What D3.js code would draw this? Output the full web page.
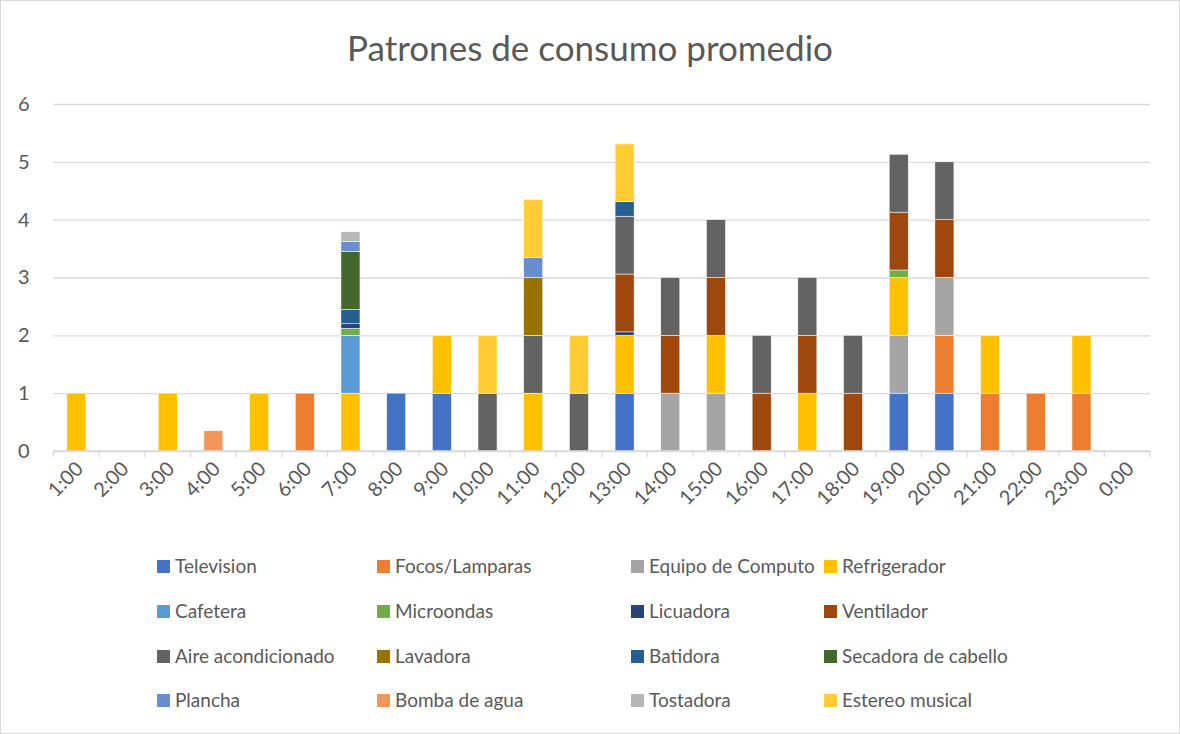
<!DOCTYPE html>
<html>
<head>
<meta charset="utf-8">
<script src="https://cdn.jsdelivr.net/npm/d3@7"></script>
<style>
  body { margin: 0; background: #fff; }
  text { font-family: Lato, "Open Sans", sans-serif; fill: #595959; }
</style>
</head>
<body>
<svg id="chart"></svg>
<script>
// Hours on the x axis.
var hours = ["1:00","2:00","3:00","4:00","5:00","6:00","7:00","8:00","9:00","10:00","11:00","12:00",
             "13:00","14:00","15:00","16:00","17:00","18:00","19:00","20:00","21:00","22:00","23:00","0:00"];

// Appliances, in stacking order.
var appliances = ["Television","Focos/Lamparas","Equipo de Computo","Refrigerador","Cafetera","Microondas",
                  "Licuadora","Ventilador","Aire acondicionado","Lavadora","Batidora","Secadora de cabello",
                  "Plancha","Bomba de agua","Tostadora","Estereo musical"];

var colors = ["#4472C4","#ED7D31","#A5A5A5","#FFC000","#5B9BD5","#70AD47","#264478","#9E480E",
              "#636363","#997300","#255E91","#43682B","#698ED0","#F1975A","#B7B7B7","#FFCD33"];

// Values per appliance, one per hour (1:00 .. 0:00).
var television   = [0,0,0,0,0,0,0,1,1,0,0,0,1,0,0,0,0,0,1,1,0,0,0,0];
var focos        = [0,0,0,0,0,1,0,0,0,0,0,0,0,0,0,0,0,0,0,1,1,1,1,0];
var computo      = [0,0,0,0,0,0,0,0,0,0,0,0,0,1,1,0,0,0,1,1,0,0,0,0];
var refrigerador = [1,0,1,0,1,0,1,0,1,0,1,0,1,0,1,0,1,0,1,0,1,0,1,0];
var cafetera     = [0,0,0,0,0,0,1,0,0,0,0,0,0,0,0,0,0,0,0,0,0,0,0,0];
var microondas   = [0,0,0,0,0,0,0.12,0,0,0,0,0,0,0,0,0,0,0,0.13,0,0,0,0,0];
var licuadora    = [0,0,0,0,0,0,0.08,0,0,0,0,0,0.06,0,0,0,0,0,0,0,0,0,0,0];
var ventilador   = [0,0,0,0,0,0,0,0,0,0,0,0,1,1,1,1,1,1,1,1,0,0,0,0];
var aire         = [0,0,0,0,0,0,0,0,0,1,1,1,1,1,1,1,1,1,1,1,0,0,0,0];
var lavadora     = [0,0,0,0,0,0,0,0,0,0,1,0,0,0,0,0,0,0,0,0,0,0,0,0];
var batidora     = [0,0,0,0,0,0,0.25,0,0,0,0,0,0.25,0,0,0,0,0,0,0,0,0,0,0];
var secadora     = [0,0,0,0,0,0,1,0,0,0,0,0,0,0,0,0,0,0,0,0,0,0,0,0];
var plancha      = [0,0,0,0,0,0,0.17,0,0,0,0.35,0,0,0,0,0,0,0,0,0,0,0,0,0];
var bomba        = [0,0,0,0.35,0,0,0,0,0,0,0,0,0,0,0,0,0,0,0,0,0,0,0,0];
var tostadora    = [0,0,0,0,0,0,0.17,0,0,0,0,0,0,0,0,0,0,0,0,0,0,0,0,0];
var estereo      = [0,0,0,0,0,0,0,0,0,1,1,1,1,0,0,0,0,0,0,0,0,0,0,0];

var yTicks = [0,1,2,3,4,5,6];

var seriesValues = [television, focos, computo, refrigerador, cafetera, microondas, licuadora, ventilador,
                    aire, lavadora, batidora, secadora, plancha, bomba, tostadora, estereo];

// Build table for d3.stack.
var table = hours.map(function(h, i) {
    var row = { hour: h };
    appliances.forEach(function(a, k) { row[a] = seriesValues[k][i]; });
    return row;
});

var W = 1180, H = 734;
var margin = { top: 104, right: 30, bottom: 283, left: 53.5 };
var width = W - margin.left - margin.right;
var height = H - margin.top - margin.bottom;

var svg = d3.select("#chart").attr("width", W).attr("height", H);

svg.append("rect")
    .attr("x", 0.5).attr("y", 0.5)
    .attr("width", W - 1).attr("height", H - 1)
    .attr("fill", "#fff").attr("stroke", "#D9D9D9");

svg.append("text")
    .attr("x", W / 2).attr("y", 61)
    .attr("text-anchor", "middle")
    .style("font-size", "35px")
    .text("Patrones de consumo promedio");

var g = svg.append("g").attr("transform", "translate(" + margin.left + "," + margin.top + ")");

var x = d3.scaleBand().domain(hours).range([0, width]).paddingInner(0.584).paddingOuter(0.292);
var y = d3.scaleLinear().domain([0, 6]).range([height, 0]);

// Gridlines and y labels.
g.append("g")
    .call(d3.axisLeft(y).tickValues(yTicks).tickSize(-width).tickFormat(d3.format("d")))
    .call(function(a) {
        a.select(".domain").remove();
        a.selectAll(".tick line").attr("stroke", "#D9D9D9").attr("stroke-width", 1.3);
        a.selectAll(".tick text").attr("x", -24).style("font-size", "20px").attr("fill", "#595959");
    });

var stack = d3.stack().keys(appliances);
var layers = stack(table);

g.selectAll("g.layer")
    .data(layers)
    .enter().append("g")
    .attr("class", "layer")
    .attr("fill", function(d, i) { return colors[i]; })
    .selectAll("rect")
    .data(function(d) { return d; })
    .enter().append("rect")
    .filter(function(d) { return d[1] - d[0] > 0; })
    .attr("x", function(d) { return x(d.data.hour); })
    .attr("width", x.bandwidth())
    .attr("y", function(d) { return y(d[1]); })
    .attr("height", function(d) { return y(d[0]) - y(d[1]); })
    .attr("stroke", "#fff")
    .attr("stroke-width", 0.5);

// X axis with boundary ticks.
var xAxis = g.append("g").attr("transform", "translate(0," + height + ")");
xAxis.append("line")
    .attr("x1", 0).attr("x2", width)
    .attr("stroke", "#D9D9D9").attr("stroke-width", 1.3);
var step = x.step();
xAxis.selectAll("line.tk")
    .data(d3.range(hours.length + 1))
    .enter().append("line")
    .attr("class", "tk")
    .attr("x1", function(i) { return i * step; })
    .attr("x2", function(i) { return i * step; })
    .attr("y1", 0).attr("y2", 6)
    .attr("stroke", "#D9D9D9").attr("stroke-width", 1.3);
xAxis.selectAll("text")
    .data(hours)
    .enter().append("text")
    .attr("text-anchor", "end")
    .attr("transform", function(h) {
        return "translate(" + (x(h) + x.bandwidth() / 2 + 8) + ",19) rotate(-45)";
    })
    .style("font-size", "20px")
    .text(function(h) { return h; });

// Legend: 4 columns.
var legX = [157, 377, 631, 824];
var legY = [566, 611, 656, 700];
var leg = svg.append("g");
appliances.forEach(function(a, i) {
    var cx = legX[i % 4], cy = legY[Math.floor(i / 4)];
    leg.append("rect")
        .attr("x", cx).attr("y", cy - 6)
        .attr("width", 13).attr("height", 13)
        .attr("fill", colors[i]);
    leg.append("text")
        .attr("x", cx + 18).attr("y", cy + 7)
        .style("font-size", "19px")
        .text(a);
});
</script>
</body>
</html>
